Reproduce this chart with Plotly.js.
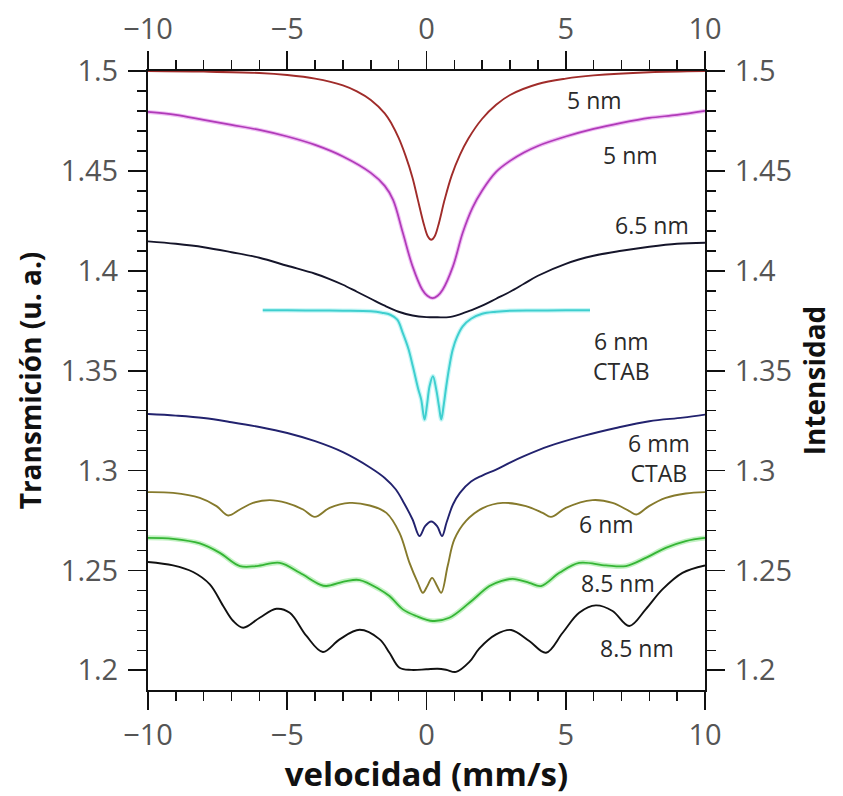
<!DOCTYPE html>
<html>
<head>
<meta charset="utf-8">
<script src="https://cdn.plot.ly/plotly-3.0.1.min.js"></script>
<style>
  html, body { margin: 0; padding: 0; background: #ffffff; }
  #chart { width: 843px; height: 796px; }
</style>
</head>
<body>
<div id="chart"></div>
<script>
// Mössbauer spectra, stacked by vertical offset (velocity in mm/s vs transmission)

const red5nmVel = [-10, -8, -6, -5, -4, -3, -2.5, -2, -1.5, -1.25, -1, -0.75, -0.5, -0.31, -0.08, 0.05, 0.17, 0.29, 0.42, 0.65, 0.9, 1.2, 1.5, 2, 2.5, 3, 4, 5, 6, 8, 10];
const red5nmT   = [1.5, 1.4997, 1.499, 1.498, 1.4962, 1.4928, 1.4898, 1.4855, 1.4788, 1.4735, 1.4665, 1.4575, 1.4465, 1.4355, 1.4225, 1.4172, 1.4155, 1.4172, 1.4225, 1.4355, 1.4475, 1.458, 1.4661, 1.4761, 1.4831, 1.488, 1.4935, 1.4962, 1.4978, 1.4994, 1.5];

const mag5nmVel = [-10, -9, -8, -7, -6, -5, -4, -3, -2, -1.5, -1.2, -0.85, -0.5, -0.15, 0.03, 0.22, 0.4, 0.58, 0.95, 1.3, 1.65, 2, 2.5, 3, 3.5, 4, 5, 6, 7, 8, 9, 10];
const mag5nmT   = [1.4795, 1.478, 1.4755, 1.473, 1.4705, 1.4672, 1.463, 1.4572, 1.449, 1.4425, 1.4355, 1.419, 1.4022, 1.3905, 1.3875, 1.3863, 1.3875, 1.3905, 1.4022, 1.419, 1.4315, 1.4402, 1.4495, 1.455, 1.4592, 1.4625, 1.4672, 1.471, 1.474, 1.4765, 1.478, 1.48];

const dark65Vel = [-10, -9, -8, -7, -6, -5, -4, -3.5, -3, -2.5, -2, -1.5, -1, -0.5, 0, 0.4, 0.8, 1.2, 1.6, 2, 2.5, 3, 3.5, 4, 5, 6, 7, 8, 9, 10];
const dark65T   = [1.4147, 1.4135, 1.4118, 1.4093, 1.4065, 1.4025, 1.3985, 1.396, 1.393, 1.3895, 1.386, 1.3825, 1.3795, 1.3776, 1.3768, 1.3767, 1.3768, 1.3782, 1.3802, 1.3825, 1.386, 1.3895, 1.3935, 1.3975, 1.4035, 1.4075, 1.41, 1.412, 1.4135, 1.414];

const cyanCtabVel = [-5.88, -5, -4, -3, -2, -1.6, -1.3, -1.05, -0.85, -0.65, -0.49, -0.3, -0.19, -0.07, 0.02, 0.11, 0.23, 0.35, 0.45, 0.53, 0.62, 0.71, 0.82, 0.94, 1.1, 1.3, 1.6, 2, 2.5, 3, 4, 5, 5.87];
const cyanCtabT   = [1.3802, 1.3802, 1.3801, 1.38, 1.3797, 1.379, 1.378, 1.3755, 1.3688, 1.361, 1.3522, 1.341, 1.3355, 1.3255, 1.333, 1.3422, 1.3472, 1.3405, 1.332, 1.3255, 1.333, 1.3422, 1.352, 1.3605, 1.367, 1.3722, 1.376, 1.3785, 1.3795, 1.38, 1.3801, 1.3802, 1.3802];

const navyCtabVel = [-10, -9, -8, -7, -6, -5, -4, -3, -2, -1.5, -1.1, -0.8, -0.5, -0.25, -0.05, 0.17, 0.38, 0.56, 0.72, 0.95, 1.2, 1.6, 2, 2.5, 3, 3.5, 4.4, 5.6, 6.8, 8, 9.2, 10];
const navyCtabT   = [1.3283, 1.3275, 1.3263, 1.3242, 1.3218, 1.3188, 1.3147, 1.3092, 1.3013, 1.2963, 1.2905, 1.2835, 1.2755, 1.2672, 1.2722, 1.2745, 1.2722, 1.2672, 1.274, 1.283, 1.2888, 1.2945, 1.2975, 1.3005, 1.304, 1.3072, 1.3122, 1.3172, 1.3213, 1.3247, 1.3265, 1.328];

const olive6Vel = [-10, -9.1, -8.14, -7.54, -7.12, -6.7, -6.23, -5.63, -5.03, -4.43, -4.01, -3.48, -2.76, -2.04, -1.44, -0.97, -0.61, -0.31, -0.13, 0.04, 0.2, 0.37, 0.53, 0.76, 1.0, 1.42, 2.02, 2.74, 3.57, 4.17, 4.47, 5.0, 5.96, 6.68, 7.28, 7.54, 7.99, 8.59, 9.31, 10];
const olive6T   = [1.2892, 1.2888, 1.2863, 1.2822, 1.2775, 1.2805, 1.2838, 1.2852, 1.2838, 1.2805, 1.2768, 1.2813, 1.2838, 1.2825, 1.2788, 1.2688, 1.2538, 1.2438, 1.2388, 1.2425, 1.2463, 1.2425, 1.2388, 1.2522, 1.2655, 1.2748, 1.2812, 1.2838, 1.2822, 1.2788, 1.2768, 1.2813, 1.2852, 1.2838, 1.2797, 1.278, 1.2822, 1.2863, 1.2885, 1.2892];

const green85Vel = [-10, -9.1, -8.14, -7.42, -6.7, -6.1, -5.27, -4.55, -3.84, -3.6, -2.88, -2.4, -1.68, -1.33, -0.85, -0.37, 0.23, 0.82, 1.54, 2.26, 2.7, 3.1, 3.69, 4.11, 4.77, 5.48, 6.44, 7.16, 7.87, 8.59, 9.31, 10];
const green85T   = [1.2663, 1.2658, 1.2635, 1.2588, 1.2522, 1.2522, 1.2538, 1.2488, 1.243, 1.2422, 1.2447, 1.2452, 1.2405, 1.2372, 1.2305, 1.2272, 1.2247, 1.2263, 1.2338, 1.2422, 1.2448, 1.2458, 1.2438, 1.2422, 1.2488, 1.2538, 1.2525, 1.2522, 1.2563, 1.2613, 1.2647, 1.2663];

const black85Vel = [-10, -9.1, -8.38, -7.78, -7.3, -6.94, -6.58, -5.99, -5.39, -4.91, -4.31, -3.72, -3.12, -2.4, -1.68, -1.33, -0.97, -0.55, -0.01, 0.4, 0.7, 1.06, 1.54, 1.9, 2.5, 3.04, 3.69, 4.29, 4.89, 5.48, 6.08, 6.68, 7.28, 7.87, 8.47, 9.19, 10];
const black85T   = [1.2542, 1.2525, 1.2492, 1.243, 1.2322, 1.2247, 1.2213, 1.2263, 1.2308, 1.2288, 1.2172, 1.2092, 1.2155, 1.2203, 1.2155, 1.2088, 1.2013, 1.2002, 1.2005, 1.2008, 1.2003, 1.1992, 1.2042, 1.211, 1.218, 1.2202, 1.2147, 1.2088, 1.2188, 1.2288, 1.2325, 1.2297, 1.2222, 1.2305, 1.2405, 1.2488, 1.2525];

// axis tick values and labels
const velTicks = [-10, -5, 0, 5, 10];
const velTickText = ['\u221210', '\u22125', '0', '5', '10'];
const transTicks = [1.2, 1.25, 1.3, 1.35, 1.4, 1.45, 1.5];
const transTickText = ['1.2', '1.25', '1.3', '1.35', '1.4', '1.45', '1.5'];

// curve labels
const labelText = ['5 nm', '5 nm', '6.5 nm', '6 nm<br>CTAB', '6 mm<br>CTAB', '6 nm', '8.5 nm', '8.5 nm'];

function spectrum(x, y, color, width, onSecondary) {
  return {
    type: 'scatter', mode: 'lines', x: x, y: y,
    xaxis: onSecondary ? 'x2' : 'x', yaxis: onSecondary ? 'y2' : 'y',
    line: { color: color, width: width, shape: 'spline', smoothing: 1 },
    hoverinfo: 'skip', showlegend: false
  };
}

const traces = [
  spectrum(red5nmVel, red5nmT, '#a02c2a', 1.9),
  spectrum(mag5nmVel, mag5nmT, 'rgba(220,110,230,0.45)', 4),
  spectrum(mag5nmVel, mag5nmT, '#b03ab8', 1.7),
  spectrum(dark65Vel, dark65T, '#15152a', 1.9),
  // the CTAB spectrum is plotted against the top/right axis pair
  spectrum(cyanCtabVel, cyanCtabT, 'rgba(130,235,235,0.45)', 4.5, true),
  spectrum(cyanCtabVel, cyanCtabT, '#3fcfcf', 2, true),
  spectrum(navyCtabVel, navyCtabT, '#22226e', 1.9),
  spectrum(olive6Vel, olive6T, '#867a2c', 1.9),
  spectrum(green85Vel, green85T, 'rgba(120,225,120,0.45)', 5),
  spectrum(green85Vel, green85T, '#35b535', 1.8),
  spectrum(black85Vel, black85T, '#111111', 1.9)
];

const fontFamily = 'Open Sans, DejaVu Sans, sans-serif';
const tickFont = { family: fontFamily, size: 29, color: '#555555' };
const yTitleFont = { family: fontFamily, size: 28, color: '#111111', weight: 700 };
const xTitleFont = { family: fontFamily, size: 33, color: '#111111', weight: 700 };

const xCommon = {
  range: [-10, 10], tickmode: 'array', tickvals: velTicks, ticktext: velTickText,
  ticks: 'outside', ticklen: 18, tickwidth: 1.8, tickcolor: '#111',
  minor: { dtick: 1, ticklen: 9, tickwidth: 1.5, tickcolor: '#111', ticks: 'outside' },
  showline: true, linecolor: '#111', linewidth: 2, showgrid: false, zeroline: false,
  tickfont: tickFont, fixedrange: true
};
const yCommon = {
  range: [1.19015, 1.5], tickmode: 'array', tickvals: transTicks, ticktext: transTickText,
  ticks: 'outside', ticklen: 18, tickwidth: 1.8, tickcolor: '#111',
  minor: { dtick: 0.01, tick0: 1.2, ticklen: 9, tickwidth: 1.5, tickcolor: '#111', ticks: 'outside' },
  showline: true, linecolor: '#111', linewidth: 2, showgrid: false, zeroline: false,
  tickfont: tickFont, ticklabelstandoff: 4, fixedrange: true
};

const labelPos = [
  [6.05, 1.4855], [7.31, 1.458], [8.08, 1.423], [6.99, 1.3575], [8.34, 1.3065], [6.48, 1.273], [6.88, 1.2435], [7.57, 1.211]
];

const annotations = labelText.map((t, i) => ({
  x: labelPos[i][0], y: labelPos[i][1], xref: 'x', yref: 'y', text: t, showarrow: false,
  font: { family: fontFamily, size: 23, color: '#2a2a2a' },
  xanchor: 'center', yanchor: 'middle', align: 'center'
}));

const layout = {
  width: 843, height: 796,
  margin: { l: 148, r: 138, t: 71, b: 106 },
  paper_bgcolor: '#ffffff', plot_bgcolor: '#ffffff',
  xaxis: Object.assign({}, xCommon, {
    side: 'bottom', anchor: 'y',
    title: { text: 'velocidad (mm/s)', font: xTitleFont, standoff: 4 }
  }),
  xaxis2: Object.assign({}, xCommon, { side: 'top', overlaying: 'x', anchor: 'y2' }),
  yaxis: Object.assign({}, yCommon, {
    side: 'left', anchor: 'x',
    title: { text: 'Transmición (u. a.)', font: yTitleFont, standoff: 11 }
  }),
  yaxis2: Object.assign({}, yCommon, {
    side: 'right', overlaying: 'y', anchor: 'x2',
    title: { text: 'Intensidad', font: yTitleFont, standoff: 14 }
  }),
  annotations: annotations,
  showlegend: false
};

Plotly.newPlot('chart', traces, layout, { displayModeBar: false, staticPlot: true });
</script>
</body>
</html>
